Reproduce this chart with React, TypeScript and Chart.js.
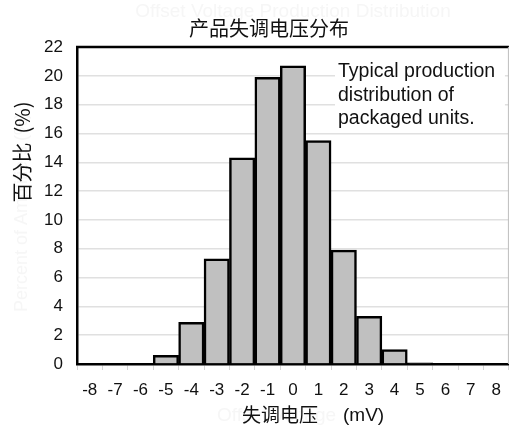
import React, { useEffect, useRef } from "react";
import { Chart, registerables } from "chart.js";

Chart.register(...registerables);

const categories = ["-8", "-7", "-6", "-5", "-4", "-3", "-2", "-1", "0", "1", "2", "3", "4", "5", "6", "7", "8"];
const percentValues = [0, 0, 0, 0.6, 2.9, 7.3, 14.3, 19.9, 20.7, 15.5, 7.9, 3.3, 1.0, 0.08, 0, 0, 0];
const yTicks = [0, 2, 4, 6, 8, 10, 12, 14, 16, 18, 20, 22];
const titleText = "产品失调电压分布";
const ghostTitle = "Offset Voltage Production Distribution";
const yTitle = "百分比  (%)";
const ghostYTitle = "Percent of Amplifiers (%)";
const xTitleCn = "失调电压";
const xTitleUnit = "(mV)";
const ghostXTitle = "Offset Voltage";
const noteLines = ["Typical production", "distribution of", "packaged units."];

const SANS = "Arial, 'Liberation Sans', sans-serif";
const CJK = "'Noto Sans CJK SC', sans-serif";

const decor = {
  id: "decor",
  beforeDatasetsDraw(chart: any) {
    const ctx = chart.ctx;
    const ca = chart.chartArea;
    ctx.save();
    ctx.fillStyle = "#ffffff";
    ctx.fillRect(335, 50, ca.right - 4 - 335, 78);
    ctx.restore();
  },
  afterDraw(chart: any) {
    const ctx = chart.ctx;
    const ca = chart.chartArea;
    ctx.save();
    ctx.strokeStyle = "#000";
    ctx.lineWidth = 2.5;
    ctx.beginPath();
    ctx.moveTo(ca.left - 1, ca.top);
    ctx.lineTo(ca.right, ca.top);
    ctx.stroke();
    ctx.strokeStyle = "#bdbdbd";
    ctx.lineWidth = 1;
    ctx.beginPath();
    ctx.moveTo(ca.right - 0.5, ca.top);
    ctx.lineTo(ca.right - 0.5, ca.bottom);
    ctx.stroke();

    // ghost texts
    ctx.fillStyle = "#f6f6f6";
    ctx.textBaseline = "middle";
    ctx.font = `19px ${SANS}`;
    ctx.textAlign = "center";
    ctx.fillText(ghostTitle, 293, 12);
    ctx.textAlign = "left";
    ctx.fillText(ghostXTitle, 217, 416);
    ctx.save();
    ctx.translate(22, 312);
    ctx.rotate(-Math.PI / 2);
    ctx.font = `18px ${SANS}`;
    ctx.fillText(ghostYTitle, 0, 0);
    ctx.restore();

    // title
    ctx.fillStyle = "#111";
    ctx.textAlign = "center";
    ctx.font = `20px ${CJK}`;
    ctx.fillText(titleText, 269, 28);

    // x title
    ctx.textAlign = "left";
    ctx.font = `19px ${CJK}`;
    ctx.fillText(xTitleCn, 242, 415);
    ctx.font = `19px ${SANS}`;
    ctx.fillText(xTitleUnit, 343, 416);

    // y title
    ctx.save();
    ctx.translate(22, 152);
    ctx.rotate(-Math.PI / 2);
    ctx.textAlign = "center";
    ctx.font = `20px ${CJK}`;
    ctx.fillText(yTitle, 0, 0);
    ctx.restore();

    // note
    ctx.textAlign = "left";
    ctx.textBaseline = "alphabetic";
    ctx.font = `19.5px ${SANS}`;
    noteLines.forEach((line, i) => {
      ctx.fillText(line, 338, 77 + i * 23.5);
    });
    ctx.restore();
  },
};

export default function App() {
  const ref = useRef<HTMLCanvasElement>(null);
  useEffect(() => {
    document.body.style.margin = "0";
    if (!ref.current) return;
    const chart = new Chart(ref.current, {
      type: "bar",
      data: {
        labels: categories,
        datasets: [
          {
            data: percentValues,
            backgroundColor: "#c0c0c0",
            borderColor: "#000",
            borderWidth: 2.5,
            barPercentage: 1,
            categoryPercentage: 1,
          },
        ],
      },
      plugins: [decor],
      options: {
        responsive: false,
        animation: false,
        layout: { padding: { top: 47, right: 2, left: 0, bottom: 0 } },
        plugins: {
          legend: { display: false },
          title: { display: false },
          tooltip: { enabled: false },
        },
        scales: {
          x: {
            afterFit(scale: any) {
              scale.height = 62;
            },
            grid: {
              drawOnChartArea: false,
              drawTicks: true,
              tickLength: 6,
              color: "#d6d6d6",
              offset: true,
            },
            border: { display: true, color: "#000", width: 2.5 },
            ticks: {
              color: "#111",
              font: { size: 17, family: SANS },
              padding: 10,
              maxRotation: 0,
              autoSkip: false,
            },
          },
          y: {
            min: 0,
            max: 22,
            afterFit(scale: any) {
              scale.width = 77;
            },
            afterBuildTicks(scale: any) {
              scale.ticks = yTicks.map((v) => ({ value: v }));
            },
            grid: {
              drawTicks: false,
              color: "#e0e0e0",
              lineWidth: 1.5,
            },
            border: { display: true, color: "#000", width: 2.5 },
            ticks: {
              color: "#111",
              font: { size: 17, family: SANS },
              padding: 14,
            },
          },
        },
      },
    });
    return () => chart.destroy();
  }, []);
  return <canvas ref={ref} width={511} height={426} style={{ display: "block" }} />;
}
